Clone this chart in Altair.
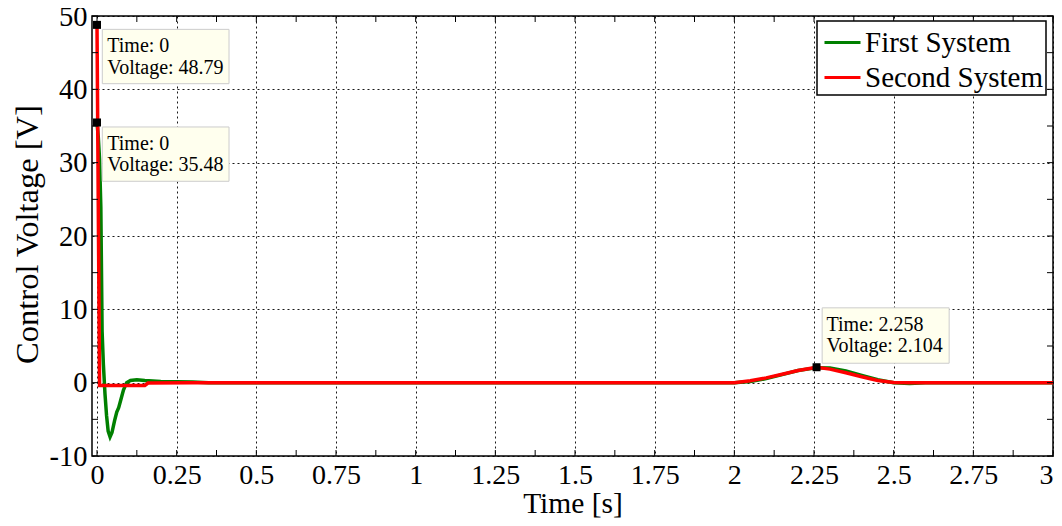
import altair as alt
import pandas as pd

# ---------------- data ----------------
series_names = ["First System", "Second System"]
series_colors = ["#008000", "#ff0000"]

t_first = [0, 0.004, 0.008, 0.012, 0.016, 0.02, 0.025, 0.03, 0.035, 0.041, 0.047,
           0.055, 0.062, 0.068, 0.075, 0.083, 0.093, 0.105, 0.125, 0.15, 0.2, 0.3,
           0.35, 2.0, 2.05, 2.1, 2.15, 2.2, 2.26, 2.3, 2.35, 2.4, 2.45, 2.5, 2.55,
           2.6, 3.0]
v_first = [35.48, 33.5, 30.5, 24.0, 7.0, 2.5, -1.5, -4.5, -6.6, -7.4, -6.8,
           -5.2, -4.0, -3.4, -2.3, -1.0, 0.0, 0.3, 0.4, 0.3, 0.15, 0.1,
           0.0, 0.0, 0.15, 0.55, 1.1, 1.65, 2.05, 2.0, 1.6, 1.0, 0.4, 0.0, -0.1,
           0.0, 0.0]

t_second = [0, 0.008, 0.15, 0.16, 0.3, 2.0, 2.05, 2.1, 2.15, 2.2, 2.258, 2.3,
            2.35, 2.4, 2.45, 2.5, 2.55, 3.0]
v_second = [48.79, -0.38, -0.38, -0.05, 0.0, 0.0, 0.25, 0.65, 1.15, 1.65, 2.104, 1.85,
            1.35, 0.8, 0.3, 0.03, 0.0, 0.0]

tip_time = [0, 0, 2.258]
tip_volt = [48.79, 35.48, 2.104]
tip_time_text = ["0", "0", "2.258"]
tip_volt_text = ["48.79", "35.48", "2.104"]

x_major = [0, 0.25, 0.5, 0.75, 1, 1.25, 1.5, 1.75, 2, 2.25, 2.5, 2.75, 3]
x_minor = [0, 0.125, 0.25, 0.375, 0.5, 0.625, 0.75, 0.875, 1, 1.125, 1.25, 1.375,
           1.5, 1.625, 1.75, 1.875, 2, 2.125, 2.25, 2.375, 2.5, 2.625, 2.75,
           2.875, 3]
y_major = [-10, 0, 10, 20, 30, 40, 50]
y_minor = [-10, -5, 0, 5, 10, 15, 20, 25, 30, 35, 40, 45, 50]

# ---------------- tables ----------------
lines_df = pd.concat([
    pd.DataFrame({"t": t_first, "v": v_first, "s": series_names[0], "o": 0}),
    pd.DataFrame({"t": t_second, "v": v_second, "s": series_names[1], "o": 1}),
], ignore_index=True)

tips_df = pd.DataFrame({
    "t": tip_time, "v": tip_volt,
    "label": [f"Time: {a}\nVoltage: {b}" for a, b in zip(tip_time_text, tip_volt_text)],
    "pos": ["below", "below", "above"],
})
xt_df = pd.DataFrame({"t": x_minor})
yt_df = pd.DataFrame({"v": y_minor})

W, H = 961, 440
FONT = "Liberation Serif"

xscale = alt.Scale(domain=[-0.0157, 3], nice=False, zero=False)
yscale = alt.Scale(domain=[-10, 50], nice=False, zero=False)

x_axis = alt.Axis(values=x_major, title="Time [s]", grid=True, ticks=False,
                  domain=False, labelExpr="toString(datum.value)",
                  labelPadding=5, labelFontSize=28, titleFontSize=29.5,
                  titleY=56, titleBaseline="alphabetic")
y_axis = alt.Axis(values=y_major, title="Control Voltage [V]", grid=True, ticks=False,
                  domain=False, labelExpr="toString(datum.value)",
                  labelPadding=5, labelFontSize=28.5, titleFontSize=32.5,
                  titleX=-55, titleY=H / 2 - 2, titleAngle=-90, titleAlign="center",
                  titleBaseline="alphabetic")

X = alt.X("t:Q", scale=xscale, axis=x_axis)
Y = alt.Y("v:Q", scale=yscale, axis=y_axis)

lines = alt.Chart(lines_df).mark_line(strokeWidth=3.5, interpolate="linear").encode(
    x=X, y=Y,
    color=alt.Color("s:N", scale=alt.Scale(domain=series_names, range=series_colors),
                    legend=alt.Legend(orient="none", legendX=725, legendY=5, title=None,
                                      symbolType="stroke", symbolSize=1296,
                                      symbolStrokeWidth=3, symbolOffset=4,
                                      labelFontSize=29,
                                      labelFont=FONT, labelColor="black", labelLimit=0,
                                      strokeColor="black", fillColor="white",
                                      padding=2, rowPadding=0, labelOffset=3)),
    order=alt.Order("o:Q"),
    detail="s:N",
)

tick_bottom = alt.Chart(xt_df).mark_rule(color="black", strokeWidth=1).encode(
    x=X, y=alt.value(H), y2=alt.value(H - 6))
tick_top = alt.Chart(xt_df).mark_rule(color="black", strokeWidth=1).encode(
    x=X, y=alt.value(0), y2=alt.value(6))
tick_left = alt.Chart(yt_df).mark_rule(color="black", strokeWidth=1).encode(
    y=Y, x=alt.value(0), x2=alt.value(6))
tick_right = alt.Chart(yt_df).mark_rule(color="black", strokeWidth=1).encode(
    y=Y, x=alt.value(W), x2=alt.value(W - 6))

box_style = dict(fill="#ffffee", stroke="#cccccc", strokeWidth=1)
txt_style = dict(align="left", baseline="alphabetic", font=FONT, fontSize=20,
                 lineBreak="\n", lineHeight=21.7, color="black")

base_tips = alt.Chart(tips_df)
below = base_tips.transform_filter("datum.pos == 'below'")
above = base_tips.transform_filter("datum.pos == 'above'")

enc_rect = dict(x=X, x2="t:Q", y=Y, y2="v:Q")
enc_pt = dict(x=X, y=Y)

box_below = below.mark_rect(xOffset=5.3, x2Offset=132, yOffset=4.5, y2Offset=58.8,
                            **box_style).encode(**enc_rect)
box_above = above.mark_rect(xOffset=5.6, x2Offset=132.6, yOffset=-59.4, y2Offset=-4,
                            **box_style).encode(**enc_rect)
txt_below = below.mark_text(dx=10.3, dy=27.3, **txt_style).encode(text="label:N", **enc_pt)
txt_above = above.mark_text(dx=10, dy=-36.7, **txt_style).encode(text="label:N", **enc_pt)
squares = base_tips.mark_square(size=64, color="black", opacity=1, filled=True).encode(**enc_pt)

chart = alt.layer(
    lines, tick_bottom, tick_top, tick_left, tick_right,
    box_below, box_above, squares, txt_below, txt_above,
).properties(
    width=W, height=H,
    autosize=alt.AutoSizeParams(type="none"),
    padding={"left": 84, "top": 8, "right": 1, "bottom": 62},
    background="white",
).configure_view(
    stroke="black", strokeWidth=1.5,
).configure_axis(
    labelFont=FONT, titleFont=FONT, labelColor="black", titleColor="black",
    titleFontWeight="normal", gridColor="black", gridDash=[2, 3], gridWidth=1,
    gridOpacity=0.9,
).configure_legend(
    strokeWidth=1.5,
)

chart.save("out.html", embed_options={"renderer": "svg", "actions": False})
